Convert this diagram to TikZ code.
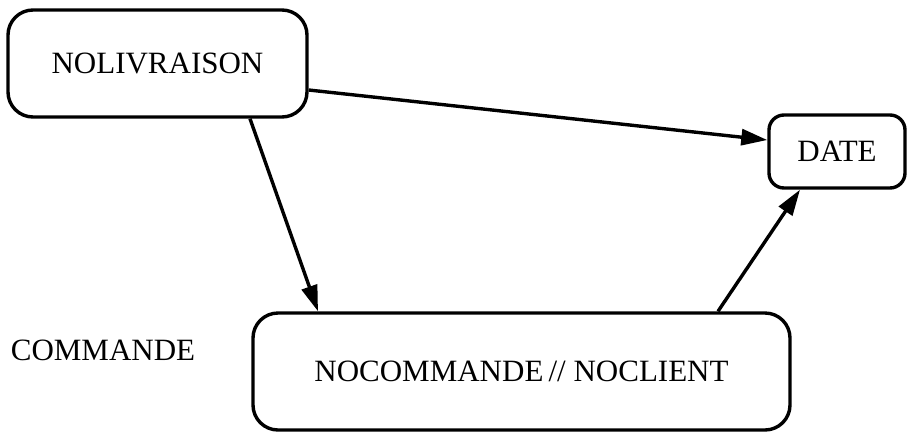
\documentclass[tikz,border=0pt]{standalone}
\usepackage{fontspec}
\setmainfont{Liberation Serif}
\usetikzlibrary{arrows.meta}

\begin{document}
\begin{tikzpicture}[x=1pt, y=-1pt,
		entity/.style={draw, line width=3.4pt, rounded corners=25pt, inner sep=0pt, font=\fontsize{31}{32}\selectfont},
		dep/.style={line width=3.4pt, -{Triangle[length=26pt, width=16pt]}},
		txt/.style={font=\fontsize{31}{32}\selectfont}
			]
	\useasboundingbox (0,0) rectangle (907,432);
	
	\node[entity, minimum width=299pt, minimum height=107pt] (nolivraison) at (157.5,63.5) {NOLIVRAISON};
	\node[entity, rounded corners=15pt, minimum width=136pt, minimum height=73pt] (date) at (837,151.5) {DATE};
	\node[entity, minimum width=537pt, minimum height=117pt] (nocommande) at (521.5,371.5) {NOCOMMANDE\,// NOCLIENT};
	\node[txt] (commande) at (103,350) {COMMANDE};
	
	% dependances
	\draw[dep] ([yshift=-26.5pt]nolivraison.east) -- ([yshift=11.5pt]date.west);
	\draw[dep] ([xshift=92.5pt]nolivraison.south) -- ([xshift=-203.5pt]nocommande.north);
	\draw[dep] ([xshift=196.5pt]nocommande.north) -- ([xshift=-37pt]date.south);
\end{tikzpicture}
\end{document}
